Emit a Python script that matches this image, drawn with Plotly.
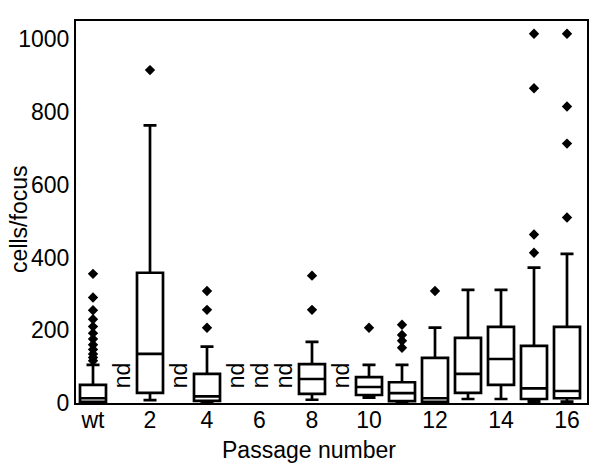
import plotly.graph_objects as go

# passage categories, "wt" first; None = not determined (nd)
passages = ["wt", "1", "2", "3", "4", "5", "6", "7", "8", "9", "10", "11", "12", "13", "14", "15", "16"]
lower_fence = [0, None, 8, None, 0, None, None, None, 9, None, 15, 0, 0, 11, 11, 4, 4]
q1 = [3, None, 28, None, 6, None, None, None, 25, None, 22, 5, 3, 28, 50, 11, 13]
median = [13, None, 135, None, 18, None, None, None, 66, None, 44, 27, 13, 80, 121, 40, 33]
q3 = [50, None, 358, None, 80, None, None, None, 107, None, 71, 57, 124, 179, 209, 157, 209]
upper_fence = [105, None, 763, None, 155, None, None, None, 168, None, 105, 105, 207, 311, 311, 372, 410]
outliers = {
    "wt": [355, 290, 255, 230, 210, 192, 176, 160, 147, 135, 125, 116],
    "2": [915],
    "4": [308, 256, 207],
    "8": [350, 256],
    "10": [207],
    "11": [215, 187, 171, 152],
    "12": [308],
    "15": [1015, 865, 463, 413],
    "16": [1015, 815, 713, 510],
}
tick_labels = ["wt", "2", "4", "6", "8", "10", "12", "14", "16"]

# measured passages get a wider slot than the nd ones
box_slot, nd_slot = 33, 24
pos = []
edge = 0
for m in median:
    w = box_slot if m is not None else nd_slot
    pos.append(edge + w / 2)
    edge += w

fig = go.Figure()
for i, p in enumerate(passages):
    if median[i] is None:
        fig.add_annotation(x=pos[i], y=75, text="nd", showarrow=False, textangle=-90,
                           font=dict(size=23, color="black"))
        continue
    fig.add_trace(go.Box(x=[pos[i]], q1=[q1[i]], median=[median[i]], q3=[q3[i]],
                         lowerfence=[lower_fence[i]], upperfence=[upper_fence[i]],
                         width=26, whiskerwidth=0.5, boxpoints=False,
                         fillcolor="white", line=dict(color="black", width=2.7),
                         showlegend=False, hoverinfo="skip"))
    if p in outliers:
        fig.add_trace(go.Scatter(x=[pos[i]] * len(outliers[p]), y=outliers[p], mode="markers",
                                 marker=dict(symbol="diamond", size=8, color="black"),
                                 showlegend=False))

fig.add_annotation(x=0.456, y=-0.083, xref="paper", yref="paper", text="Passage number",
                   showarrow=False, xanchor="center", yanchor="top", font=dict(size=23))
fig.add_annotation(x=-0.113, y=0.48, xref="paper", yref="paper", text="cells/focus",
                   showarrow=False, textangle=-90, xanchor="center", yanchor="middle",
                   font=dict(size=23))

axis_style = dict(showline=True, mirror=True, linecolor="black", linewidth=2.2,
                  showgrid=False, zeroline=False, ticks="")
fig.update_xaxes(range=[-0.5, edge + 3.5], tickvals=[pos[passages.index(t)] for t in tick_labels],
                 ticktext=tick_labels, ticklabelstandoff=-5, **axis_style)
fig.update_yaxes(range=[0, 1050], tickvals=[0, 200, 400, 600, 800, 1000], **axis_style)
fig.update_layout(width=600, height=465, margin=dict(l=76, r=13, t=21, b=62),
                  plot_bgcolor="white", paper_bgcolor="white",
                  font=dict(family="Arial, Liberation Sans", size=23, color="black"))
fig.write_html("out.html", config={"displayModeBar": False},
               post_script="document.body.style.margin='0';")
